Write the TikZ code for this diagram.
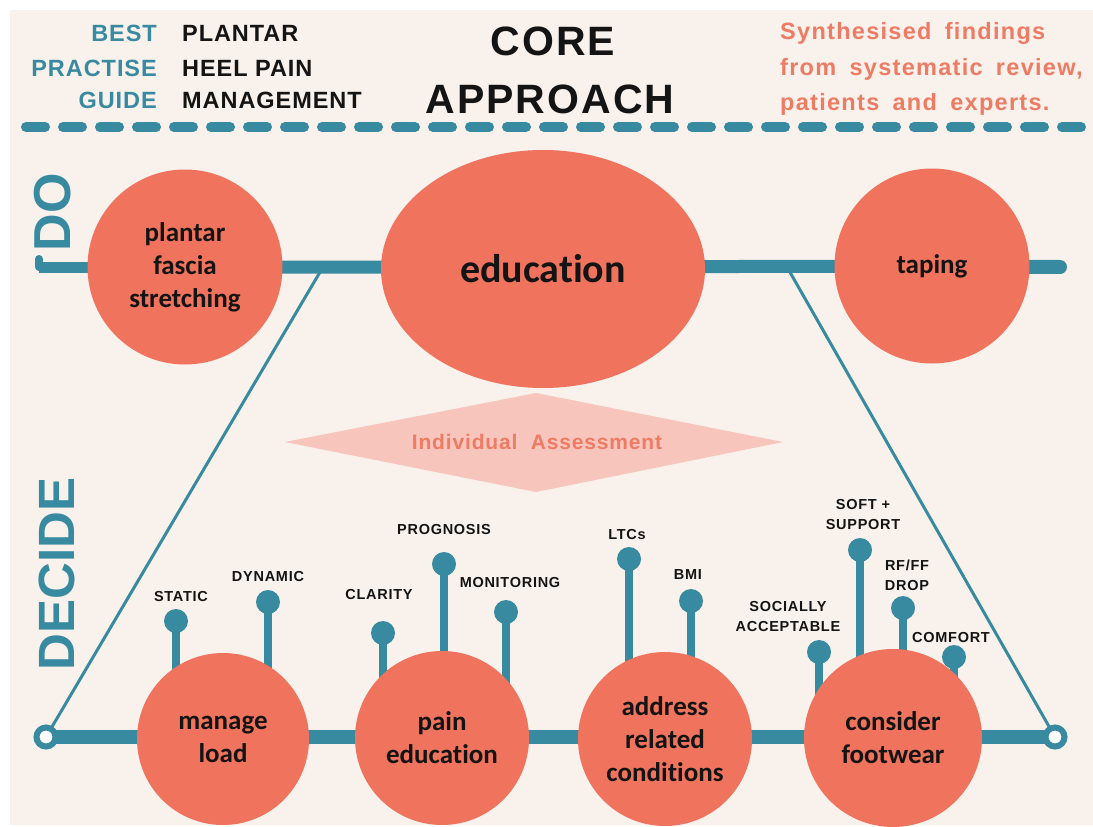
\documentclass[tikz,border=0pt]{standalone}
\usepackage{fontspec}
\setmainfont{Liberation Sans}
\newfontfamily\carl[Ligatures=NoCommon]{Carlito}
\newfontfamily\lsp[LetterSpace=5]{Liberation Sans}
\newfontfamily\hsp[LetterSpace=4]{Liberation Sans}
\newfontfamily\wsp[LetterSpace=5.5,WordSpace=1.7]{Liberation Sans}
\usetikzlibrary{shapes.geometric}
\definecolor{bgc}{HTML}{F9F1EB}
\definecolor{tealc}{HTML}{388AA0}
\definecolor{salm}{HTML}{EF735D}
\definecolor{pinkd}{HTML}{F7C5BC}
\definecolor{salt}{HTML}{EE7B63}
\definecolor{ink}{HTML}{141414}
\pgfdeclarelayer{back}
\pgfdeclarelayer{mid}
\pgfsetlayers{back,mid,main}
\begin{document}
\begin{tikzpicture}[x=1pt,y=-1pt,
  bigc/.style={circle, fill=salm, inner sep=0pt, text=ink, align=center,
    font=\carl\bfseries\fontsize{27}{33}\selectfont},
  dotn/.style={circle, fill=tealc, minimum size=24pt, inner sep=0pt},
  ringn/.style={circle, draw=tealc, line width=6pt, fill=white, minimum size=19pt, inner sep=0pt},
  stemln/.style={draw=tealc, line width=8pt},
  mainln/.style={draw=tealc, line width=14pt},
  thinln/.style={draw=tealc, line width=3pt},
  lab/.style={font=\lsp\bfseries\fontsize{14.5}{20}\selectfont, text=ink, align=center, inner sep=0pt},
  hdl/.style={font=\hsp\bfseries\fontsize{23.5}{33}\selectfont, inner sep=0pt},
]
\useasboundingbox (0,0) rectangle (1093,827);
\begin{pgfonlayer}{back}
  \fill[white] (0,0) rectangle (1093,827);
  \fill[bgc] (10,10) rectangle (1093,825);
  \draw[tealc, line width=10pt, line cap=round, dash pattern=on 19pt off 18pt] (26,127) -- (1093,127);
\end{pgfonlayer}

% header
\node[hdl, text=tealc, anchor=base east] (best) at (157,41) {BEST};
\node[hdl, text=tealc, anchor=base east] (prac) at (157,76) {PRACTISE};
\node[hdl, text=tealc, anchor=base east] (guide) at (157,108) {GUIDE};
\node[hdl, text=ink, anchor=base west] (plan) at (182,41) {PLANTAR};
\node[hdl, text=ink, anchor=base west] (heel) at (182,76) {HEEL PAIN};
\node[hdl, text=ink, anchor=base west] (mgmt) at (182,108) {MANAGEMENT};
\node[font=\lsp\bfseries\fontsize{41}{41}\selectfont, text=ink, anchor=base, inner sep=0pt] (core) at (553,55) {CORE};
\node[font=\lsp\bfseries\fontsize{41}{41}\selectfont, text=ink, anchor=base, inner sep=0pt] (appr) at (550,113) {APPROACH};
\node[font=\wsp\bfseries\fontsize{23.5}{33}\selectfont, text=salt, anchor=base west, inner sep=0pt] (syn1) at (780,39) {Synthesised findings};
\node[font=\wsp\bfseries\fontsize{23.5}{33}\selectfont, text=salt, anchor=base west, inner sep=0pt] (syn2) at (780,75) {from systematic review,};
\node[font=\wsp\bfseries\fontsize{23.5}{33}\selectfont, text=salt, anchor=base west, inner sep=0pt] (syn3) at (780,110) {patients and experts.};

% side labels
\node[rotate=90, text=tealc, font=\bfseries\fontsize{52}{52}\selectfont, inner sep=0pt] (dolab) at (53,212) {DO};
\node[rotate=90, text=tealc, font=\bfseries\fontsize{51}{51}\selectfont, inner sep=0pt] (declab) at (57,574) {DECIDE};

% DO row
\coordinate (dol) at (39,267);
\coordinate (dor) at (1060,267);
\node[bigc, minimum size=195pt] (pfs) at (185,267) {plantar\\fascia\\stretching};
\node[ellipse, fill=salm, minimum width=324pt, minimum height=238pt, inner sep=0pt, text=ink,
      font=\carl\bfseries\fontsize{40}{42}\selectfont] (edu) at (543,269) {education};
\node[bigc, minimum size=195pt] (tap) at (932,266) {taping};

% diamond
\fill[pinkd] (285,442) -- (536,393) -- (783,442) -- (536,492) -- cycle;
\node[font=\hsp\bfseries\fontsize{21}{21}\selectfont, text=salt, inner sep=0pt] (ia) at (537,442) {Individual\ \ Assessment};

% DECIDE row
\node[ringn] (rl) at (46,737) {};
\node[ringn] (rr) at (1055,737) {};
\node[bigc, minimum size=172pt] (ml) at (223,739) {manage\\load};
\node[bigc, minimum size=174pt] (pe) at (442,738) {pain\\education};
\node[bigc, minimum size=174pt] (arc) at (665,739) {address\\related\\conditions};
\node[bigc, minimum size=178pt] (cf) at (893,738) {consider\\footwear};

\coordinate (tl) at (323,267);
\coordinate (tr) at (787,267);

% pins
\node[dotn] (p1) at (176,621) {};
\node[dotn] (p2) at (268,602) {};
\node[dotn] (p3) at (383,633) {};
\node[dotn] (p4) at (444,564) {};
\node[dotn] (p5) at (506,612) {};
\node[dotn] (p6) at (629,559) {};
\node[dotn] (p7) at (691,601) {};
\node[dotn] (p8) at (819,652) {};
\node[dotn] (p9) at (860,550) {};
\node[dotn] (p10) at (903,608) {};
\node[dotn] (p11) at (954,657) {};

\node[lab] (l1) at (181,597) {STATIC};
\node[lab] (l2) at (268,577) {DYNAMIC};
\node[lab] (l3) at (379,595) {CLARITY};
\node[lab] (l4) at (444,530) {PROGNOSIS};
\node[lab] (l5) at (510,583) {MONITORING};
\node[lab] (l6) at (627,535) {LTCs};
\node[lab] (l7) at (688,575) {BMI};
\node[lab] (l8) at (788,617) {SOCIALLY\\ACCEPTABLE};
\node[lab] (l9) at (863,515) {SOFT +\\SUPPORT};
\node[lab] (l10) at (907,575) {RF/FF\\DROP};
\node[lab] (l11) at (951,638) {COMFORT};

\begin{pgfonlayer}{mid}
  \draw[tealc, line width=8pt, line cap=round] (dol) ++(0,-8) -- (dol);
  \draw[mainln, line width=11pt] (dol) -- (pfs.center);
  \draw[mainln, line width=13pt] (pfs.center) -- (edu.center |- pfs.center) -- (tap.center);
  \draw[mainln, line width=14pt, line cap=round] (tap.center) -- (dor);
  \draw[mainln] (rl.center) -- (ml.center |- rl.center) -- (pe.center |- rl.center) -- (arc.center |- rl.center) -- (cf.center |- rl.center) -- (rr.center);
  \draw[thinln] (tl) -- (rl.center);
  \draw[thinln] (tr) -- (rr.center);
  \draw[stemln] (p1.center) -- (p1.center |- ml.center);
  \draw[stemln] (p2.center) -- (p2.center |- ml.center);
  \draw[stemln] (p3.center) -- (p3.center |- pe.center);
  \draw[stemln] (p4.center) -- (p4.center |- pe.center);
  \draw[stemln] (p5.center) -- (p5.center |- pe.center);
  \draw[stemln] (p6.center) -- (p6.center |- arc.center);
  \draw[stemln] (p7.center) -- (p7.center |- arc.center);
  \draw[stemln] (p8.center) -- (p8.center |- cf.center);
  \draw[stemln] (p9.center) -- (p9.center |- cf.center);
  \draw[stemln] (p10.center) -- (p10.center |- cf.center);
  \draw[stemln] (p11.center) -- (p11.center |- cf.center);
\end{pgfonlayer}
\end{tikzpicture}
\end{document}
